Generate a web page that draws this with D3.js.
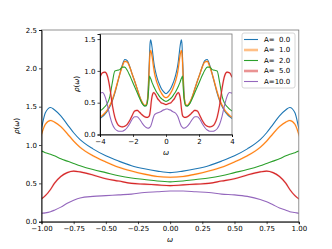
<!DOCTYPE html>
<html>
<head>
<meta charset="utf-8">
<script src="https://cdn.jsdelivr.net/npm/d3@7"></script>
<style>
  body { margin: 0; background: #fff; }
  svg { display: block; font-family: 'DejaVu Sans', sans-serif; }
  .tick text { font-size: 7px; fill: #000; }
  .legend text { font-size: 7px; white-space: pre; }
</style>
</head>
<body>
<div class="dataviz"></div>
<script>
// frequency grid
const omega = [-4, -3.85, -3.7, -3.55, -3.4, -3.25, -3.1, -2.95, -2.8, -2.65, -2.5, -2.35, -2.2, -2.05, -1.9, -1.75, -1.6, -1.45, -1.3, -1.2, -1.1, -1.05, -1.0, -0.97, -0.93, -0.9, -0.85, -0.8, -0.75, -0.7, -0.6, -0.5, -0.4, -0.3, -0.2, -0.1, 0,
  0.1, 0.2, 0.3, 0.4, 0.5, 0.6, 0.7, 0.75, 0.8, 0.85, 0.9, 0.93, 0.97, 1.0, 1.05, 1.1, 1.2, 1.3, 1.45, 1.6, 1.75, 1.9, 2.05, 2.2, 2.35, 2.5, 2.65, 2.8, 2.95, 3.1, 3.25, 3.4, 3.55, 3.7, 3.85, 4]

const rhoA0 = [0.25, 0.28, 0.32, 0.37, 0.44, 0.53, 0.65, 0.80, 0.95, 1.09, 1.18, 1.16, 1.07, 0.95, 0.84, 0.72, 0.60, 0.50, 0.45, 0.46, 0.62, 0.90, 1.22, 1.42, 1.49, 1.46, 1.38, 1.27, 1.16, 1.07, 0.95, 0.86, 0.79, 0.73, 0.69, 0.66, 0.64,
  0.66, 0.69, 0.73, 0.79, 0.86, 0.95, 1.07, 1.16, 1.27, 1.38, 1.46, 1.49, 1.42, 1.22, 0.90, 0.62, 0.46, 0.45, 0.50, 0.60, 0.72, 0.84, 0.95, 1.07, 1.16, 1.18, 1.09, 0.95, 0.80, 0.65, 0.53, 0.44, 0.37, 0.32, 0.28, 0.25]

const rhoA1 = [0.27, 0.30, 0.34, 0.39, 0.46, 0.55, 0.67, 0.81, 0.95, 1.07, 1.15, 1.14, 1.06, 0.95, 0.84, 0.72, 0.60, 0.51, 0.46, 0.47, 0.58, 0.82, 1.14, 1.27, 1.32, 1.30, 1.24, 1.15, 1.05, 0.97, 0.86, 0.78, 0.71, 0.66, 0.62, 0.59, 0.58,
  0.59, 0.62, 0.66, 0.71, 0.78, 0.86, 0.97, 1.05, 1.15, 1.24, 1.30, 1.32, 1.27, 1.14, 0.82, 0.58, 0.47, 0.46, 0.51, 0.60, 0.72, 0.84, 0.95, 1.06, 1.14, 1.15, 1.07, 0.95, 0.81, 0.67, 0.55, 0.46, 0.39, 0.34, 0.30, 0.27]

const rhoA2 = [0.37, 0.40, 0.44, 0.49, 0.60, 0.82, 1.00, 1.01, 1.02, 1.06, 1.06, 1.01, 0.93, 0.84, 0.75, 0.66, 0.57, 0.49, 0.45, 0.45, 0.55, 0.72, 0.92, 0.90, 0.88, 0.86, 0.82, 0.79, 0.76, 0.73, 0.68, 0.64, 0.60, 0.57, 0.55, 0.53, 0.52,
  0.53, 0.55, 0.57, 0.60, 0.64, 0.68, 0.73, 0.76, 0.79, 0.82, 0.86, 0.88, 0.90, 0.92, 0.72, 0.55, 0.45, 0.45, 0.49, 0.57, 0.66, 0.75, 0.84, 0.93, 1.01, 1.06, 1.06, 1.02, 1.01, 1.00, 0.82, 0.60, 0.49, 0.44, 0.40, 0.37]

const rhoA5 = [0.90, 0.97, 0.98, 0.92, 0.73, 0.46, 0.27, 0.17, 0.13, 0.12, 0.13, 0.16, 0.22, 0.30, 0.37, 0.38, 0.35, 0.31, 0.28, 0.27, 0.27, 0.28, 0.30, 0.34, 0.42, 0.50, 0.59, 0.64, 0.66, 0.65, 0.61, 0.56, 0.53, 0.50, 0.49, 0.48, 0.47,
  0.48, 0.49, 0.50, 0.53, 0.56, 0.61, 0.65, 0.66, 0.64, 0.59, 0.50, 0.42, 0.34, 0.30, 0.28, 0.27, 0.27, 0.28, 0.31, 0.35, 0.38, 0.37, 0.30, 0.22, 0.16, 0.13, 0.12, 0.13, 0.17, 0.27, 0.46, 0.73, 0.92, 0.98, 0.97, 0.90]

const rhoA10 = [0.65, 0.66, 0.60, 0.46, 0.29, 0.16, 0.09, 0.06, 0.05, 0.05, 0.07, 0.11, 0.17, 0.24, 0.28, 0.28, 0.24, 0.18, 0.13, 0.11, 0.10, 0.10, 0.11, 0.115, 0.13, 0.15, 0.19, 0.24, 0.28, 0.31, 0.33, 0.34, 0.35, 0.36, 0.38, 0.39, 0.40,
  0.40, 0.39, 0.38, 0.36, 0.35, 0.33, 0.29, 0.26, 0.22, 0.18, 0.15, 0.13, 0.12, 0.11, 0.10, 0.10, 0.11, 0.13, 0.18, 0.24, 0.28, 0.28, 0.24, 0.17, 0.11, 0.07, 0.05, 0.05, 0.06, 0.09, 0.16, 0.29, 0.46, 0.60, 0.66, 0.65]

const labels = ['A=  0.0', 'A=  1.0', 'A=  2.0', 'A=  5.0', 'A=10.0']
const mainXTicks = [-1, -0.75, -0.5, -0.25, 0, 0.25, 0.5, 0.75, 1]
const mainYTicks = [0, 0.5, 1, 1.5, 2, 2.5]
const insetXTicks = [-4, -2, 0, 2, 4]
const insetYTicks = [0, 0.5, 1, 1.5]

const colors = ['#1f77b4', '#ff7f0e', '#2ca02c', '#d62728', '#9467bd']
const faded = [false, true, false, true, false]

const series = [rhoA0, rhoA1, rhoA2, rhoA5, rhoA10].map((vals, i) => ({
  label: labels[i],
  color: colors[i],
  faded: faded[i],
  values: vals.map((v, j) => ({ w: omega[j], r: v }))
}))

const width = 332
const height = 249

const svg = d3.select('.dataviz').append('svg').attr('width', width).attr('height', height)

const addLabel = (g, x, y, rotate, parts) => {
  const t = g.append('text')
    .attr('transform', `translate(${x},${y}) rotate(${rotate})`)
    .attr('text-anchor', 'middle')
    .attr('font-size', 7.2)
  parts.forEach(p => t.append('tspan').attr('font-style', p[1] ? 'italic' : 'normal').text(p[0]))
}

const drawAxes = (opts) => {
  const { x0, x1, y0, y1, xDomain, yDomain, xTicks, yTicks, xFmt, yFmt, id } = opts
  const g = svg.append('g')

  const xScale = d3.scaleLinear().domain(xDomain).range([x0, x1])
  const yScale = d3.scaleLinear().domain(yDomain).range([y1, y0])

  if (opts.fill) {
    g.append('rect').attr('x', x0).attr('y', y0).attr('width', x1 - x0).attr('height', y1 - y0).attr('fill', '#fff')
  }

  g.append('clipPath').attr('id', id)
    .append('rect').attr('x', x0).attr('y', y0).attr('width', x1 - x0).attr('height', y1 - y0)

  const line = d3.line()
    .curve(d3.curveMonotoneX)
    .x(d => xScale(d.w))
    .y(d => yScale(d.r))

  const lines = g.append('g').attr('clip-path', `url(#${id})`)

  series.forEach(s => {
    // light halo for the series drawn semi-transparent in the legend
    if (s.faded) {
      lines.append('path').datum(s.values)
        .attr('d', line).attr('fill', 'none')
        .attr('stroke', s.color).attr('stroke-opacity', 0.2).attr('stroke-width', 2)
    }
    lines.append('path').datum(s.values)
      .attr('d', line).attr('fill', 'none')
      .attr('stroke', s.color).attr('stroke-width', 1.1)
  })

  // frame: top/right look lighter in the reference
  g.append('rect').attr('x', x0).attr('y', y0).attr('width', x1 - x0).attr('height', y1 - y0)
    .attr('fill', 'none').attr('stroke', '#777').attr('stroke-width', 0.8)

  const xAxis = g.append('g').attr('transform', `translate(0,${y1})`)
    .call(d3.axisBottom(xScale).tickValues(xTicks).tickFormat(xFmt).tickSize(2.5).tickPadding(2))
  const yAxis = g.append('g').attr('transform', `translate(${x0},0)`)
    .call(d3.axisLeft(yScale).tickValues(yTicks).tickFormat(yFmt).tickSize(2.5).tickPadding(2))

  ;[xAxis, yAxis].forEach(a => {
    a.attr('font-family', null).attr('font-size', null)
    a.select('.domain').attr('stroke', '#000').attr('stroke-width', 0.9)
    a.selectAll('.tick line').attr('stroke', '#000').attr('stroke-width', 0.7)
  })
  return g
}

// main axes
const main = drawAxes({
  id: 'clipMain',
  x0: 41.5, x1: 298.8, y0: 30, y1: 221.7,
  xDomain: [-1, 1], yDomain: [0, 2.5],
  xTicks: mainXTicks, yTicks: mainYTicks,
  xFmt: d3.format('.2f'), yFmt: d3.format('.1f')
})
addLabel(main, 170, 242, 0, [['ω', true]])
addLabel(main, 19, 126, -90, [['ρ', true], ['(', false], ['ω', true], [')', false]])

// inset axes
const inset = drawAxes({
  id: 'clipInset', fill: true,
  x0: 100, x1: 232, y0: 34, y1: 134.5,
  xDomain: [-4, 4], yDomain: [0, 1.58],
  xTicks: insetXTicks, yTicks: insetYTicks,
  xFmt: d3.format('d'), yFmt: d3.format('.1f')
})
addLabel(inset, 166, 155, 0, [['ω', true]])
addLabel(inset, 79, 84, -90, [['ρ', true], ['(', false], ['ω', true], [')', false]])

// legend
const legend = svg.append('g').attr('class', 'legend')
legend.append('rect')
  .attr('x', 242).attr('y', 33).attr('width', 53).attr('height', 55).attr('rx', 2)
  .attr('fill', '#fff').attr('fill-opacity', 0.8).attr('stroke', '#ccc').attr('stroke-width', 0.8)

series.forEach((s, i) => {
  const y = 39.5 + i * 10.5
  legend.append('line')
    .attr('x1', 244).attr('x2', 258).attr('y1', y).attr('y2', y)
    .attr('stroke', s.color)
    .attr('stroke-width', s.faded ? 2.6 : 1.1)
    .attr('stroke-opacity', s.faded ? 0.5 : 1)
  legend.append('text')
    .attr('x', 264).attr('y', y).attr('dy', '0.35em')
    .text(s.label)
})
</script>
</body>
</html>
